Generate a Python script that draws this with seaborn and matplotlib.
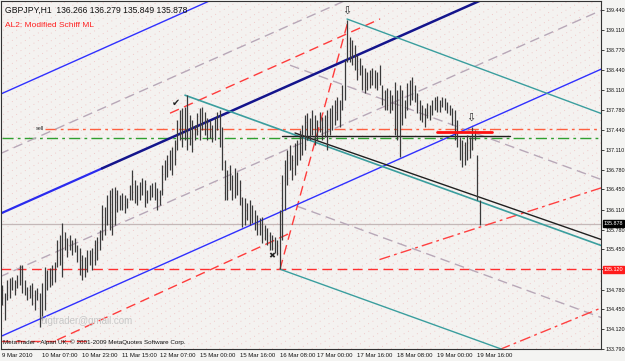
import numpy as np
import matplotlib
matplotlib.use("Agg")
import matplotlib.pyplot as plt
import seaborn as sns

# hourly GBPJPY bars (high / low per bar)
highs = [
    134.86, 134.73, 134.94, 134.98, 134.99, 134.94, 135.03, 135.19,
    135.19, 134.94, 134.83, 134.86, 134.89, 134.78, 134.81, 134.73,
    134.89, 135.16, 135.11, 135.14, 135.19, 135.24, 135.61, 135.69,
    135.89, 135.74, 135.64, 135.69, 135.61, 135.64, 135.53, 135.48,
    135.36, 135.33, 135.44, 135.44, 135.48, 135.61, 135.66, 135.78,
    136.19, 136.16, 136.36, 136.44, 136.48, 136.49, 136.44, 136.36,
    136.39, 136.36, 136.31, 136.53, 136.78, 136.61, 136.53, 136.58,
    136.64, 136.61, 136.44, 136.53, 136.56, 136.58, 136.48, 136.44,
    136.86, 136.94, 137.03, 137.11, 137.16, 137.28, 137.61, 137.78,
    137.81, 137.83, 138.03, 137.69, 137.61, 137.53, 137.73, 137.81,
    137.83, 137.74, 137.64, 137.61, 137.53, 137.64, 137.74, 137.78,
    137.49, 136.94, 136.78, 136.86, 136.69, 136.81, 136.74, 136.61,
    136.33, 136.31, 136.23, 136.28, 136.19, 136.11, 136.03, 135.98,
    135.99, 135.86, 135.81, 135.74, 135.69, 135.66, 135.61, 136.11,
    136.69, 136.94, 137.11, 137.19, 137.03, 137.23, 137.28, 137.44,
    137.53, 137.69, 137.73, 137.64, 137.78, 137.69, 137.61, 137.74,
    137.66, 137.69, 137.78, 137.81, 137.86, 137.94, 137.99, 137.94,
    138.19, 138.61, 139.27, 138.99, 138.94, 138.86, 138.69, 138.64,
    138.53, 138.48, 138.41, 138.44, 138.48, 138.44, 138.41, 138.53,
    138.19, 138.11, 138.14, 138.11, 138.03, 138.24, 138.11, 138.19,
    138.11, 137.94, 138.23, 138.28, 138.33, 138.19, 138.06, 137.94,
    137.86, 137.81, 137.89, 137.86, 137.94, 137.99, 138.01, 137.94,
    137.99, 137.98, 137.91, 137.86, 137.81, 137.78, 137.61, 137.33,
    137.28, 137.24, 137.36, 137.33, 137.49, 137.44, 137.03, 136.279,
]
lows = [
    134.53, 134.28, 134.61, 134.64, 134.78, 134.69, 134.81, 134.86,
    134.73, 134.69, 134.61, 134.64, 134.53, 134.44, 134.61, 134.16,
    134.28, 134.44, 134.78, 134.83, 134.86, 134.91, 135.16, 135.19,
    134.99, 135.44, 135.33, 135.44, 135.36, 135.41, 135.24, 135.03,
    134.94, 134.99, 135.08, 135.19, 135.11, 135.19, 135.28, 135.44,
    135.61, 135.69, 135.86, 135.78, 135.69, 135.86, 136.08, 136.11,
    136.11, 136.06, 136.14, 136.28, 136.28, 136.23, 136.19, 136.28,
    136.36, 136.16, 136.23, 136.28, 136.33, 136.28, 136.11, 136.19,
    136.36, 136.61, 136.66, 136.78, 136.69, 136.86, 137.11, 137.28,
    137.16, 137.28, 137.11, 137.19, 137.08, 137.28, 137.36, 137.28,
    137.44, 137.36, 137.28, 137.31, 137.24, 137.28, 137.44, 137.16,
    136.78, 136.28, 136.28, 136.44, 136.28, 136.31, 136.36, 136.19,
    135.83, 135.86, 135.94, 135.86, 135.89, 135.78, 135.69, 135.69,
    135.56, 135.61, 135.53, 135.44, 135.44, 135.39, 135.36, 135.12,
    135.61, 136.11, 136.53, 136.78, 136.61, 136.69, 136.86, 136.94,
    137.03, 137.11, 137.28, 137.28, 137.36, 137.19, 137.28, 137.41,
    137.28, 137.33, 137.11, 137.36, 137.44, 137.53, 137.61, 137.49,
    137.78, 137.94, 138.58, 138.58, 138.53, 138.44, 138.28, 138.36,
    138.11, 138.06, 138.11, 138.14, 138.19, 138.14, 138.11, 138.19,
    137.86, 137.78, 137.78, 137.73, 137.78, 137.36, 137.28, 136.99,
    137.53, 137.64, 137.78, 137.86, 137.94, 137.91, 137.73, 137.61,
    137.58, 137.49, 137.64, 137.61, 137.69, 137.78, 137.74, 137.74,
    137.83, 137.78, 137.73, 137.69, 137.53, 137.28, 137.16, 136.94,
    136.83, 136.86, 136.94, 136.98, 137.11, 137.28, 136.28, 135.849,
]

header = "GBPJPY,H1  136.266 136.279 135.849 135.878"
indicator_name = "AL2: Modified Schiff ML"
footer = "MetaTrader - Alpari UK, \u00a9 2001-2009 MetaQuotes Software Corp."
watermark = "bigtrader@gmail.com"
bid_price = 135.878
low_level = 135.120

price_ticks = [139.44, 139.11, 138.77, 138.44, 138.11, 137.78, 137.44, 137.11,
               136.78, 136.45, 136.11, 135.78, 135.45, 135.12, 134.78, 134.45,
               134.12, 133.79]
time_ticks = [0, 16, 32, 48, 63, 79, 95, 111, 126, 142, 158, 174, 190]
time_labels = ["9 Mar 2010", "10 Mar 07:00", "10 Mar 23:00", "11 Mar 15:00",
               "12 Mar 07:00", "15 Mar 00:00", "15 Mar 16:00", "16 Mar 08:00",
               "17 Mar 00:00", "17 Mar 16:00", "18 Mar 08:00", "19 Mar 00:00",
               "19 Mar 16:00"]

# drawn objects: (bar0, price0, bar1, price1)
blue_upper = (-1, 138.03, 84, 139.61)
blue_mid_light = (-1, 136.04, 40, 136.80)
blue_mid_dark = (40, 136.80, 192, 139.61)
blue_lower = (-1, 133.99, 240, 138.46)
teal_from_top = (73.2, 138.02, 240, 135.51)
black_ml = (117.2, 137.39, 240, 135.61)
teal_from_peak = (138, 139.29, 240, 137.71)
teal_from_low = (111.2, 135.12, 201, 133.77)
red_bc = (111.2, 135.12, 138.4, 139.25)
red_upper = (67.2, 137.72, 151.2, 139.29)
red_lower = (22, 133.94, 115.2, 135.72)
red_flat = (-1, 133.92, 35, 133.92)
reddot_upper = (151, 135.28, 240, 136.48)
reddot_lower = (199, 133.78, 240, 134.48)
gray_up1 = (-1, 134.99, 240, 139.44)
gray_up2 = (-1, 137.04, 138, 139.61)
gray_down1 = (115.2, 138.52, 240, 136.61)
gray_down2 = (118, 136.17, 240, 134.31)
sell_level = 137.46
buy_level = 137.30
black_flat = (112, 137.34, 203, 137.34)
red_short = (174, 137.41, 196, 137.41)

sns.set_theme(style="white")
plt.rcParams["font.family"] = ["Liberation Sans", "DejaVu Sans"]

fig = plt.figure(figsize=(6.25, 3.61), dpi=100, facecolor="#f4f4f2")
ax = fig.add_axes([1 / 625, 12 / 361, 600 / 625, 348 / 361])
ax.set_facecolor("#f4f2f0")
ax.set_xlim(-0.4, 239.6)
ax.set_ylim(133.79, 139.59)

# faint dotted background texture
for k in np.arange(-1.0, 1.0, 0.022):
    ax.plot([k, k + 1.0], [0, 1.0], transform=ax.transAxes, color="#eebcbc",
            lw=0.6, ls=(0, (1, 5)), zorder=0)

dash = (0, (7, 4))
dashdot = (0, (8, 3, 2, 3))


def seg(line, color, lw=1.0, ls="-", z=2):
    sns.lineplot(x=[line[0], line[2]], y=[line[1], line[3]], ax=ax, color=color,
                 lw=lw, ls=ls, zorder=z, legend=False)


ax.axhline(bid_price, color="#c4b8b8", lw=0.9, zorder=1)
ax.axhline(low_level, color="#ff3030", lw=1.0, ls=dash, zorder=1)
ax.plot([17, 240], [sell_level, sell_level], color="#ff6040", lw=1.0, ls=dashdot, zorder=1)
ax.plot([0, 240], [buy_level, buy_level], color="#30a030", lw=1.0, ls=dashdot, zorder=1)

for g in (gray_up1, gray_up2, gray_down1, gray_down2):
    seg(g, "#b8a8b8", 1.0, dash, 1)
for r in (red_bc, red_upper, red_lower, red_flat):
    seg(r, "#ff3b3b", 1.0, dash, 2)
for r in (reddot_upper, reddot_lower):
    seg(r, "#ff4040", 1.0, dashdot, 2)

seg(blue_upper, "#3030ff", 1.0)
seg(blue_lower, "#3030ff", 1.0)
seg(blue_mid_light, "#2a2aee", 1.6)
seg(blue_mid_dark, "#14148c", 1.8)
seg(teal_from_top, "#3a9e9e", 1.2)
seg(black_ml, "#202020", 1.0, "-", 3)
seg(teal_from_peak, "#3a9e9e", 1.0)
seg(teal_from_low, "#3a9e9e", 1.0)
seg(black_flat, "#202020", 1.0, "-", 3)
seg(red_short, "#ff1010", 2.0, "-", 4)

# price bars
bars = np.arange(len(highs))
ax.vlines(bars, lows, highs, color="#3a3a3a", lw=0.9, zorder=3)

# chart marks
ax.text(69.6, 137.89, "\u2714", fontsize=7, ha="center", va="center",
        family=["DejaVu Sans"], zorder=5)
ax.text(138, 139.42, "\u21e9", fontsize=8, ha="center", va="center",
        family=["DejaVu Sans"], zorder=5)
ax.text(187.6, 137.64, "\u21e9", fontsize=8, ha="center", va="center",
        family=["DejaVu Sans"], zorder=5)
ax.text(108, 135.34, "\u2716", fontsize=6, ha="center", va="center",
        family=["DejaVu Sans"], zorder=5)
ax.text(13.5, 137.47, "sell", fontsize=4, ha="left", va="center")

ax.text(0.006, 0.985, header, transform=ax.transAxes, fontsize=6.2, ha="left",
        va="top", color="#111111")
ax.text(0.006, 0.94, indicator_name, transform=ax.transAxes, fontsize=6,
        ha="left", va="top", color="#ff2020")
ax.text(0.004, 0.012, footer, transform=ax.transAxes, fontsize=4.5, ha="left",
        va="bottom", color="#111111")
ax.text(0.065, 0.065, watermark, transform=ax.transAxes, fontsize=7, ha="left",
        va="bottom", color="#c8c8c8")

# axes in MetaTrader style; the 135.120 level is shown by its own red box
ax.yaxis.tick_right()
ax.set_yticks(price_ticks)
ax.set_yticklabels(["" if abs(p - low_level) < 1e-6 else f"{p:.3f}" for p in price_ticks],
                   fontsize=3.9)
ax.set_xticks(time_ticks)
ax.set_xticklabels(time_labels, fontsize=4.3, ha="left")
ax.tick_params(axis="both", direction="out", length=2.2, width=0.6, color="#222222",
               pad=0.8, labelcolor="#111111")
for s in ax.spines.values():
    s.set_color("#333333")
    s.set_linewidth(0.8)

ytr = ax.get_yaxis_transform()
ax.text(1.004, bid_price, f"{bid_price:.3f}", transform=ytr, fontsize=3.9,
        color="white", va="center", ha="left",
        bbox=dict(boxstyle="square,pad=0.15", fc="black", ec="black"), clip_on=False)
ax.text(1.004, low_level, f"{low_level:.3f}", transform=ytr, fontsize=3.9,
        color="white", va="center", ha="left",
        bbox=dict(boxstyle="square,pad=0.15", fc="#ff1c1c", ec="#ff1c1c"), clip_on=False)

ax.set_xlabel("")
ax.set_ylabel("")
fig.savefig("out.png", dpi=100, facecolor=fig.get_facecolor())
